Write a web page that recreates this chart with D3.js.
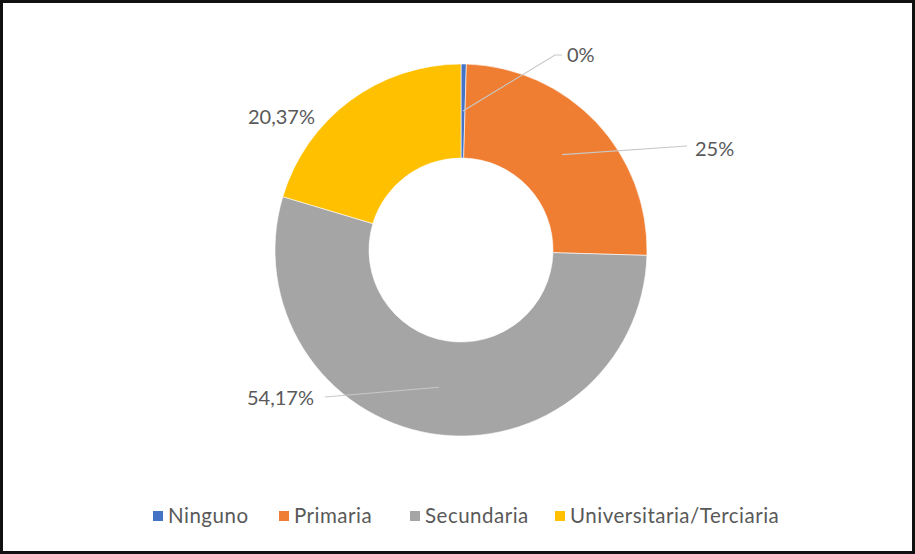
<!DOCTYPE html>
<html>
<head>
<meta charset="utf-8">
<script src="https://cdn.jsdelivr.net/npm/d3@7"></script>
<style>
  body { margin: 0; background: #fff; }
  text { font-family: Lato, "Open Sans", sans-serif; fill: #595959; }
</style>
</head>
<body>
<div id="chart"></div>
<script>
// data
const categories = ['Ninguno', 'Primaria', 'Secundaria', 'Universitaria/Terciaria'];
const values = [0.46, 25, 54.17, 20.37];
const labels = ['0%', '25%', '54,17%', '20,37%'];
const colours = ['#4472C4', '#EF7E32', '#A5A5A5', '#FFC000'];

// where Excel dropped each label, relative to the chart centre
const labelPos = [[106, -195], [234, -101], [-147, 148], [-146, -133]];
const hasLeader = [true, true, true, false];

const width = 915;
const height = 554;
const cx = 461;
const cy = 250;
const outerR = 186;
const innerR = 92;

const svg = d3.select('#chart')
  .append('svg')
  .attr('width', width)
  .attr('height', height);

// frame
svg.append('rect')
  .attr('x', 1.5).attr('y', 1.5)
  .attr('width', width - 3).attr('height', height - 3)
  .attr('fill', 'none')
  .attr('stroke', '#111')
  .attr('stroke-width', 3);

const colour = d3.scaleOrdinal().domain(categories).range(colours);

const pie = d3.pie().sort(null).value((d) => d.value);
const arcs = pie(categories.map((c, i) => ({ name: c, value: values[i], label: labels[i], i })));

const arc = d3.arc().innerRadius(innerR).outerRadius(outerR);
const midArc = d3.arc().innerRadius((innerR + outerR) / 2).outerRadius((innerR + outerR) / 2);

const g = svg.append('g').attr('transform', `translate(${cx},${cy})`);

g.selectAll('path.slice')
  .data(arcs)
  .enter().append('path')
  .attr('class', 'slice')
  .attr('d', arc)
  .attr('fill', (d) => colour(d.data.name))
  .attr('stroke', '#fff')
  .attr('stroke-width', 0.6);

// leader lines, from slice centroid to label
g.selectAll('path.leader')
  .data(arcs.filter((d) => hasLeader[d.data.i]))
  .enter().append('path')
  .attr('class', 'leader')
  .attr('fill', 'none')
  .attr('stroke', '#c8c8c8')
  .attr('stroke-width', 1.2)
  .attr('d', (d) => {
    const [x0, y0] = midArc.centroid(d);
    const [lx, ly] = labelPos[d.data.i];
    if (d.data.i === 0) {
      return `M${x0},${y0}L${lx - 12},${ly}L${lx - 5},${ly}`;
    }
    if (d.data.i === 1) {
      return `M${x0},${y0}L${lx - 8},${ly - 3}`;
    }
    return `M${x0},${y0}L${lx + 11},${ly - 1}`;
  });

g.selectAll('text.lbl')
  .data(arcs)
  .enter().append('text')
  .attr('class', 'lbl')
  .attr('x', (d) => labelPos[d.data.i][0])
  .attr('y', (d) => labelPos[d.data.i][1])
  .attr('dy', '0.35em')
  .attr('text-anchor', (d) => (labelPos[d.data.i][0] < 0 ? 'end' : 'start'))
  .style('font-size', '20px')
  .text((d) => d.data.label);

// legend
const legendX = [153, 279, 410, 555];
const legend = svg.append('g').attr('transform', 'translate(0,516)');
const item = legend.selectAll('g')
  .data(categories)
  .enter().append('g')
  .attr('transform', (d, i) => `translate(${legendX[i]},0)`);

item.append('rect')
  .attr('x', 0).attr('y', -5)
  .attr('width', 10).attr('height', 10)
  .attr('fill', (d) => colour(d));

item.append('text')
  .attr('x', 15)
  .attr('dy', '0.35em')
  .style('font-size', '20.5px')
  .style('letter-spacing', '0.5px')
  .text((d) => d);
</script>
</body>
</html>
